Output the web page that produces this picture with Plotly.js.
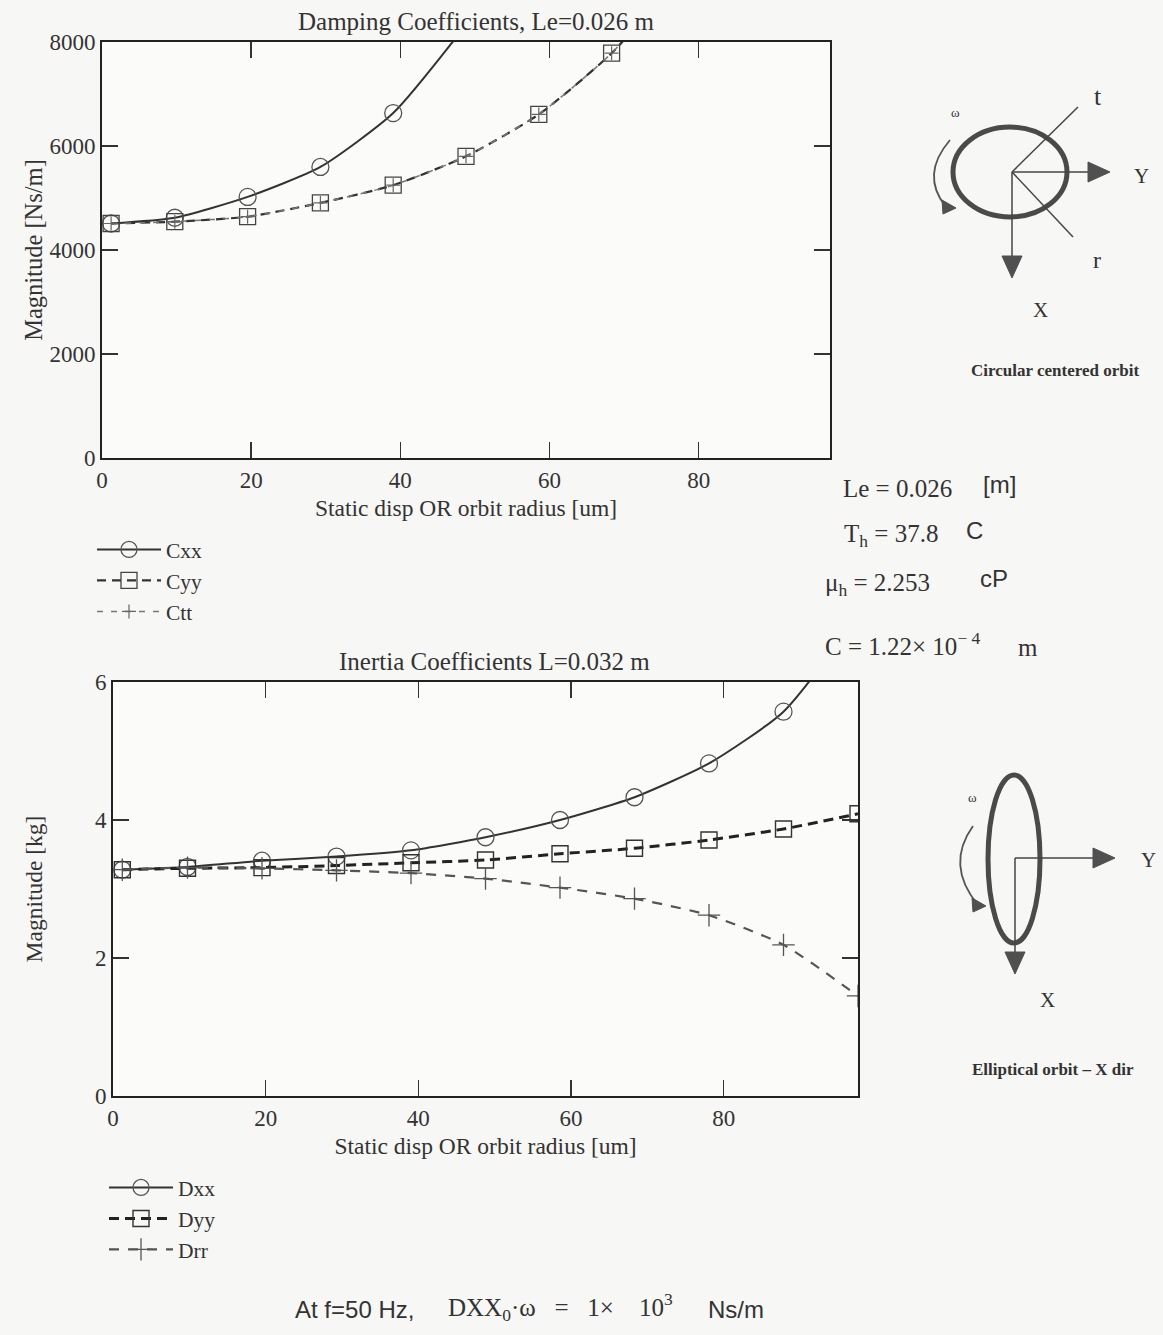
<!DOCTYPE html>
<html>
<head>
<meta charset="utf-8">
<script src="https://cdn.plot.ly/plotly-3.0.1.min.js"></script>
<style>
html,body{margin:0;padding:0;background:#f7f7f5;}
#chart{width:1163px;height:1335px;}
</style>
</head>
<body>
<div id="chart"></div>
<script>
// ---------- data ----------
const radius = [1.22, 9.76, 19.52, 29.28, 39.04, 48.8, 58.56, 68.32, 78.08, 87.84, 97.6];

// Damping coefficients [Ns/m]
const Cxx = [4510, 4620, 5021, 5597, 6633, 8330];
const Cyy = [4510, 4545, 4640, 4906, 5246, 5802, 6608, 7785, 9400];
const Ctt = [4510, 4545, 4640, 4906, 5246, 5802, 6608, 7785, 9400];

// Inertia coefficients [kg]
const Dxx = [3.28, 3.32, 3.41, 3.47, 3.56, 3.75, 4.00, 4.33, 4.82, 5.57, 6.95];
const Dyy = [3.28, 3.30, 3.31, 3.34, 3.38, 3.42, 3.51, 3.59, 3.71, 3.87, 4.09];
const Drr = [3.28, 3.31, 3.30, 3.27, 3.23, 3.15, 3.02, 2.86, 2.62, 2.19, 1.45];

const xTicks = [0, 20, 40, 60, 80];
const topYTicks = [0, 2000, 4000, 6000, 8000];
const botYTicks = [0, 2, 4, 6];

// ---------- page geometry helpers ----------
const W = 1163, H = 1335;
const px = x => x / W;
const py = y => 1 - y / H;

const SERIF = 'Liberation Serif, Times New Roman, serif';
const SANS = 'Liberation Sans, Arial, sans-serif';
const INK = '#2e2e2e';

function xs(arr) { return radius.slice(0, arr.length); }

const traces = [
  {x: xs(Cxx), y: Cxx, name: 'Cxx', xaxis: 'x', yaxis: 'y', mode: 'lines+markers',
   line: {color: '#333', width: 2, shape: 'spline', smoothing: 0.6},
   marker: {symbol: 'circle-open', size: 17, color: '#555', line: {width: 1.3}}, legend: 'legend'},
  {x: xs(Cyy), y: Cyy, name: 'Cyy', xaxis: 'x', yaxis: 'y', mode: 'lines+markers',
   line: {color: '#333', width: 2.2, dash: '9px,6px', shape: 'spline', smoothing: 0.6},
   marker: {symbol: 'square-open', size: 16, color: '#444', line: {width: 1.3}}, legend: 'legend'},
  {x: xs(Ctt), y: Ctt, name: 'Ctt', xaxis: 'x', yaxis: 'y', mode: 'lines+markers',
   line: {color: '#777', width: 1.5, dash: '6px,8px', shape: 'spline', smoothing: 0.6},
   marker: {symbol: 'cross-thin-open', size: 10, color: '#666', line: {width: 1.2}}, legend: 'legend'},

  {x: xs(Dxx), y: Dxx, name: 'Dxx', xaxis: 'x2', yaxis: 'y2', mode: 'lines+markers',
   line: {color: '#333', width: 2, shape: 'spline', smoothing: 0.6},
   marker: {symbol: 'circle-open', size: 17, color: '#555', line: {width: 1.3}}, legend: 'legend2'},
  {x: xs(Dyy), y: Dyy, name: 'Dyy', xaxis: 'x2', yaxis: 'y2', mode: 'lines+markers',
   line: {color: '#222', width: 3, dash: '10px,6px', shape: 'spline', smoothing: 0.6},
   marker: {symbol: 'square-open', size: 16, color: '#333', line: {width: 1.4}}, legend: 'legend2'},
  {x: xs(Drr), y: Drr, name: 'Drr', xaxis: 'x2', yaxis: 'y2', mode: 'lines+markers',
   line: {color: '#555', width: 2.2, dash: '10px,9px', shape: 'spline', smoothing: 0.6},
   marker: {symbol: 'cross-thin-open', size: 16, color: '#555', line: {width: 1.3}}, legend: 'legend2'}
];

const axisCommon = {
  showgrid: false, zeroline: false, showline: true, linecolor: '#222', linewidth: 2,
  mirror: 'allticks', ticks: 'inside', ticklen: 16, tickwidth: 1.5, tickcolor: '#333',
  tickfont: {family: SERIF, size: 23, color: '#333'}, fixedrange: true
};

const layout = {
  width: W, height: H, autosize: false,
  margin: {l: 0, r: 0, t: 0, b: 0},
  paper_bgcolor: '#f7f7f5', plot_bgcolor: '#fbfbfa',
  font: {family: SERIF, color: INK},
  xaxis: Object.assign({}, axisCommon, {
    domain: [px(102), px(830)], anchor: 'y', range: [0, 97.6],
    tickvals: xTicks,
    title: {text: 'Static disp OR orbit radius [um]', font: {family: SERIF, size: 23.5, color: '#333'}, standoff: 8}
  }),
  yaxis: Object.assign({}, axisCommon, {
    domain: [py(458), py(42)], anchor: 'x', range: [0, 8000],
    tickvals: topYTicks,
    title: {text: 'Magnitude [Ns/m]', font: {family: SERIF, size: 24.5, color: '#333'}, standoff: 0}
  }),
  xaxis2: Object.assign({}, axisCommon, {
    domain: [px(113), px(858)], anchor: 'y2', range: [0, 97.6],
    tickvals: xTicks,
    title: {text: 'Static disp OR orbit radius [um]', font: {family: SERIF, size: 23.5, color: '#333'}, standoff: 8}
  }),
  yaxis2: Object.assign({}, axisCommon, {
    domain: [py(1096), py(682)], anchor: 'x2', range: [0, 6],
    tickvals: botYTicks,
    title: {text: 'Magnitude [kg]', font: {family: SERIF, size: 23.5, color: '#333'}, standoff: 46}
  }),
  legend: {
    x: px(92), y: py(529), xanchor: 'left', yanchor: 'top',
    bgcolor: 'rgba(0,0,0,0)', borderwidth: 0, itemwidth: 64,
    font: {family: SERIF, size: 21.5, color: '#333'}, tracegroupgap: 0
  },
  legend2: {
    x: px(104), y: py(1167), xanchor: 'left', yanchor: 'top',
    bgcolor: 'rgba(0,0,0,0)', borderwidth: 0, itemwidth: 64,
    font: {family: SERIF, size: 21.5, color: '#333'}, tracegroupgap: 0
  },
  showlegend: true,
  shapes: [],
  annotations: []
};

function text(t, x, y, size, opts) {
  layout.annotations.push(Object.assign({
    text: t, x: px(x), y: py(y), xref: 'paper', yref: 'paper',
    xanchor: 'left', yanchor: 'middle', showarrow: false,
    font: {family: SERIF, size: size, color: '#333'}
  }, opts || {}));
}
function sans(size) { return {font: {family: SANS, size: size, color: '#333'}}; }

// titles
text('Damping Coefficients, Le=0.026 m', 476, 22, 25, {xanchor: 'center'});
text('Inertia Coefficients L=0.032 m', 494, 661, 25, {xanchor: 'center'});

// parameters block
text('Le = 0.026', 841, 488, 25);
text('[m]', 981, 484, 24, sans(24));
text('T<sub>h</sub> = 37.8', 842, 535, 25);
text('C', 964, 530, 24, sans(24));
text('\u03bc<sub>h</sub> = 2.253', 823, 584, 25);
text('cP', 978, 578, 24, sans(24));
text('C = 1.22\u00d7 10<sup>\u2212 4</sup>', 823, 644, 25);
text('m', 1016, 648, 25);

// bottom note
text('At f=50 Hz,', 293, 1309, 24, sans(24));
text('DXX<sub>0</sub>\u00b7\u03c9 \u2002=\u2002 1\u00d7 \u2002 10<sup>3</sup>', 446, 1307, 25);
text('Ns/m', 706, 1309, 24, sans(24));

// ---------- diagrams ----------
function line(x0, y0, x1, y1, w, c) {
  layout.shapes.push({type: 'line', xref: 'paper', yref: 'paper',
    x0: px(x0), y0: py(y0), x1: px(x1), y1: py(y1), line: {color: c || '#444', width: w || 1.5}});
}
function ellipse(cx, cy, rx, ry, w) {
  layout.shapes.push({type: 'circle', xref: 'paper', yref: 'paper',
    x0: px(cx - rx), x1: px(cx + rx), y0: py(cy + ry), y1: py(cy - ry),
    line: {color: '#4a4a4a', width: w}});
}
function tri(pts) {
  const p = pts.map((q, i) => (i ? 'L' : 'M') + px(q[0]) + ',' + py(q[1])).join(' ') + ' Z';
  layout.shapes.push({type: 'path', xref: 'paper', yref: 'paper', path: p,
    fillcolor: '#505050', line: {color: '#505050', width: 1}});
}
function curve(a, c, b) {
  const p = 'M' + px(a[0]) + ',' + py(a[1]) + ' Q' + px(c[0]) + ',' + py(c[1]) + ' ' + px(b[0]) + ',' + py(b[1]);
  layout.shapes.push({type: 'path', xref: 'paper', yref: 'paper', path: p,
    line: {color: '#555', width: 1.8}});
}

// circular orbit diagram
ellipse(1010, 172, 57, 45, 5);
line(1012, 172, 1078, 107);
line(1012, 172, 1073, 237);
line(1012, 172, 1090, 172);
tri([[1088, 162], [1110, 172], [1088, 182]]);
line(1012, 172, 1012, 258);
tri([[1002, 256], [1012, 278], [1022, 256]]);
curve([950, 140], [920, 175], [946, 207]);
tri([[942, 200], [956, 208], [943, 214]]);
text('t', 1098, 97, 26, {xanchor: 'center'});
text('Y', 1141, 176, 21, {xanchor: 'center'});
text('r', 1097, 260, 24, {xanchor: 'center'});
text('X', 1040, 310, 21, {xanchor: 'center'});
text('\u03c9', 955, 113, 13, {xanchor: 'center'});
text('<b>Circular centered orbit</b>', 1055, 370, 17, {xanchor: 'center'});

// elliptical orbit diagram
ellipse(1014, 859, 26, 84, 5);
line(1015, 858, 1093, 858);
tri([[1093, 848], [1115, 858], [1093, 868]]);
line(1015, 858, 1015, 954);
tri([[1005, 952], [1015, 974], [1025, 952]]);
curve([973, 826], [945, 865], [978, 905]);
tri([[972, 898], [986, 906], [973, 912]]);
text('Y', 1148, 860, 21, {xanchor: 'center'});
text('X', 1047, 1000, 21, {xanchor: 'center'});
text('\u03c9', 972, 797, 13, {xanchor: 'center'});
text('<b>Elliptical orbit \u2013 X dir</b>', 1053, 1069, 17, {xanchor: 'center'});

Plotly.newPlot('chart', traces, layout, {displayModeBar: false, staticPlot: true});
</script>
</body>
</html>
